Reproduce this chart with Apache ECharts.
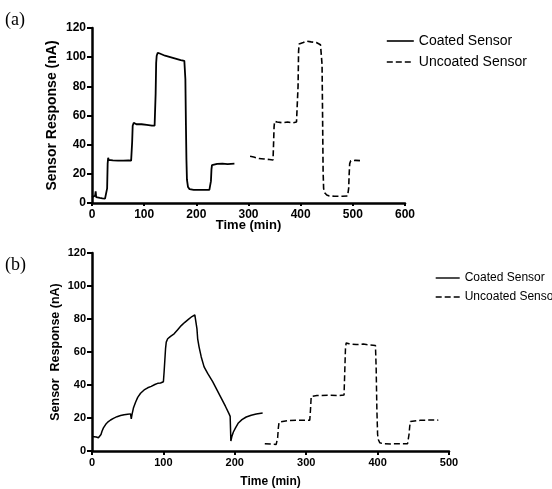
<!DOCTYPE html>
<html><head><meta charset="utf-8">
<script src="https://cdn.jsdelivr.net/npm/echarts@6/dist/echarts.min.js"></script>
<style>html,body{margin:0;padding:0;background:#fff}#c{width:552px;height:489px}</style>
</head><body><div id="c"></div>
<script>
// Panel (a)
const coatedA_t = [0,3,6,7,8,10,15,20,25,28,29,30,31,32,34,40,50,60,70,75,76,77,78,80,85,95,105,115,120,121,122,123,124,126,130,140,150,160,170,177,178,179,180,181,182,184,187,195,205,215,225,227,228,229,230,231,233,240,250,260,273];
const coatedA_y = [4,4,5,8,4,3.5,3.5,3.2,3,3,10,27,31,29.5,29,29.2,29,29,29.2,29,30,42,53,55,54,54,53.5,53,53,54,75,96,101,103,102.5,101,100,99,98,97.5,97,85,55,30,16,11,9.5,9,9,9,9,10,15,23,26,26.7,27,26.8,27,26.7,27];
const uncoatedA_t = [303,310,320,330,340,347,348,349,350,355,365,375,385,392,394,395,396,397,400,405,412,420,430,438,440,441,442,443,444,446,450,455,465,480,490,492,493,494,496,505,516];
const uncoatedA_y = [32,31.5,30.5,30.2,29.8,29.5,40,52,56,55.5,55,55.5,55,55.5,55,80,104,109,109.5,110,111,110.5,110,108.5,107.5,95,60,22,10,7,5.5,4.8,4.6,4.6,4.8,10,20,27,29,29.2,29];
// Panel (b)
const coatedB_t = [0,3,6,9,10.5,11.5,12.6,14,16,19,22,26,30,35,40,45,50,54,55,56,58,61,64,68,73,78,83,88,92,96,100,101,102,103,104,106,110,115,120,125,130,135,140,144,146,147,148,150,153,157,162,169,175,181,187,192,193.5,194.5,196,198,201,205,210,216,223,230,239];
const coatedB_y = [8.8,8.7,8.5,8,7,6.8,10,12,14,16,17.5,18.8,19.8,20.8,21.5,22,22.3,22.5,19.5,22,26,29.5,32.5,35,37,38.3,39.2,40.3,41,41.2,42,48,55,62,66,68,69.5,71,73.5,76,78,79.8,81.5,82.5,83,74,68,63,57,51,47,42,37,32,27,22.5,21,6,9,11.5,14,17,19,20.6,21.7,22.4,23];
const uncoatedB_t = [242,250,258,260,261,262,264,275,290,305,306,307,308,315,330,345,353,354,355,356,360,370,380,390,397,398,399,400,401,403,408,420,435,442,444,445,446,448,460,475,485];
const uncoatedB_y = [4.4,4.2,4,8,14,17.5,18.2,18.5,18.6,18.7,25,33,34.2,33.6,33.8,33.6,34,48,62,65.5,65,64.5,64.8,64.2,64,50,25,10,7,5,4.4,4.3,4.4,4.4,10,15,17.9,18.5,18.6,18.8,18.7];

const yTicks = [0,20,40,60,80,100,120];
const zip = (t,y) => t.map((v,i)=>[v,y[i]]);

const chart = echarts.init(document.getElementById('c'), null, {renderer:'canvas'});
const F = 'Arial, "Liberation Sans", Helvetica, sans-serif';
function yAx(gi, fs, nameFs, name, gap){
  return {type:'value', gridIndex:gi, min:yTicks[0], max:yTicks[yTicks.length-1], interval:20,
    name:name, nameLocation:'middle', nameGap:gap, nameRotate:90, nameMoveOverlap:false,
    nameTextStyle:{fontFamily:F, fontWeight:'bold', fontSize:nameFs, color:'#000'},
    axisLine:{show:true, lineStyle:{color:'#000', width:2.5}},
    axisTick:{show:true, length:5, lineStyle:{color:'#000', width:2}},
    axisLabel:{fontFamily:F, fontWeight:'bold', fontSize:fs, color:'#000', margin:6},
    splitLine:{show:false}};
}
function xAx(gi, max, fs, nameFs, gap, margin, tickLen){
  return {type:'value', gridIndex:gi, min:0, max:max, interval:100,
    name:'Time (min)', nameLocation:'middle', nameGap:gap, nameMoveOverlap:false,
    nameTextStyle:{fontFamily:F, fontWeight:'bold', fontSize:nameFs, color:'#000'},
    axisLine:{show:true, onZero:false, lineStyle:{color:'#000', width:2.5}},
    axisTick:{show:true, length:tickLen, lineStyle:{color:'#000', width:2}},
    axisLabel:{fontFamily:F, fontWeight:'bold', fontSize:fs, color:'#000', margin:margin},
    splitLine:{show:false}};
}
function ser(name, data, xi, dashed, w){
  return {name:name, type:'line', xAxisIndex:xi, yAxisIndex:xi, data:data, symbol:'none',
    animation:false, lineStyle:{color:'#000', width:w, type: dashed ? [6,3] : 'solid'},
    itemStyle:{color:'#000'}};
}
chart.setOption({
  backgroundColor:'#fff',
  animation:false,
  grid:[{left:92, top:28, width:313, height:175},
        {left:92, top:253, width:357, height:201}],
  xAxis:[xAx(0,600,12,13,16,6,3), xAx(1,500,11,12,25,6,4)],
  yAxis:[yAx(0,12,14,'Sensor Response (nA)',33), yAx(1,11,12.5,'Sensor  Response (nA)',30)],
  legend:[
    {left:381, top:29, orient:'vertical', itemWidth:27, itemHeight:14, itemGap:7,
     itemStyle:{opacity:0}, lineStyle:{width:1.6},
     data:['Coated Sensor','Uncoated Sensor'], textStyle:{fontFamily:F, fontSize:14, color:'#000'}},
    {left:430, top:267, orient:'vertical', itemWidth:24, itemHeight:12, itemGap:7,
     itemStyle:{opacity:0}, lineStyle:{width:1.4},
     data:['Coated Sensor','Uncoated Sensor'], textStyle:{fontFamily:F, fontSize:12, color:'#000'}}
  ],
  graphic:[
    {type:'text', left:5, top:11, style:{text:'(a)', font:'18px "Liberation Serif", "Times New Roman", serif', fill:'#000'}},
    {type:'text', left:5, top:256, style:{text:'(b)', font:'18px "Liberation Serif", "Times New Roman", serif', fill:'#000'}}
  ],
  series:[
    ser('Coated Sensor', zip(coatedA_t, coatedA_y), 0, false, 1.8),
    ser('Uncoated Sensor', zip(uncoatedA_t, uncoatedA_y), 0, true, 1.6),
    ser('Coated Sensor', zip(coatedB_t, coatedB_y), 1, false, 1.5),
    ser('Uncoated Sensor', zip(uncoatedB_t, uncoatedB_y), 1, true, 1.5)
  ]
});
</script></body></html>
